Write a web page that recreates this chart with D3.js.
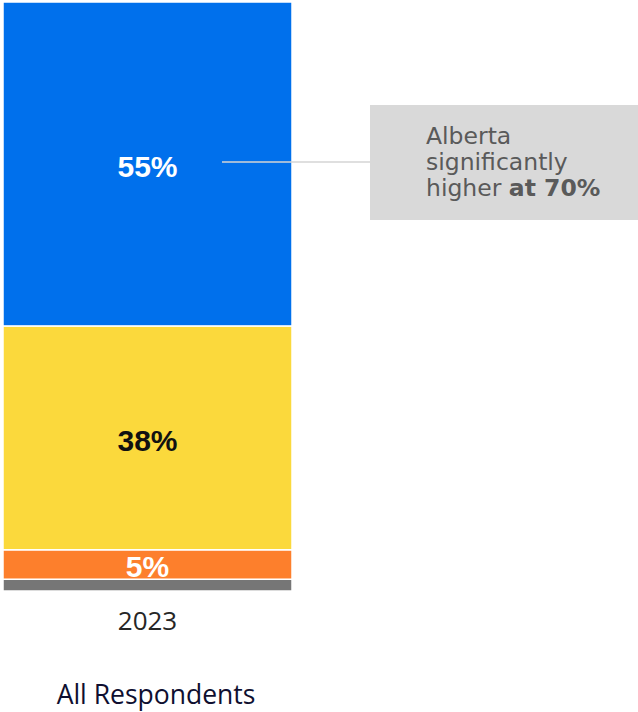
<!DOCTYPE html>
<html>
<head>
<meta charset="utf-8">
<script src="https://cdn.jsdelivr.net/npm/d3@7"></script>
<style>
  html, body { margin: 0; padding: 0; background: #fff; }
  svg { display: block; }
</style>
</head>
<body>
<div id="chart"></div>
<script>
// Stacked share of respondents, 2023
const categories = ["2023"];
const segmentNames = ["Top", "Middle", "Lower", "Bottom"];
const segmentValues = [55, 38, 5, 2];
const segmentLabels = ["55%", "38%", "5%", ""];
const segmentColors = ["#0070ec", "#fbd93c", "#fd7f2c", "#767676"];
const labelColors = ["#ffffff", "#111111", "#ffffff", "#ffffff"];
const groupTitle = "All Respondents";
const calloutLines = [["Alberta"], ["significantly"], ["higher ", "at 70%"]];

const W = 638, H = 712;
const svg = d3.select("#chart").append("svg").attr("width", W).attr("height", H);

const x = d3.scaleBand().domain(categories).range([3, 292]).paddingInner(0).paddingOuter(0);
const y = d3.scaleLinear().domain([0, 100]).range([591, 2]);

// stack the segments from the bottom up (last item sits at the bottom)
let acc = 0;
const stacked = segmentValues.map((v, i) => ({ name: segmentNames[i], value: v, label: segmentLabels[i], color: segmentColors[i], lc: labelColors[i] }))
  .reverse()
  .map(d => { const s = { ...d, y0: acc, y1: acc + d.value }; acc += d.value; return s; });

const g = svg.append("g");
g.selectAll("rect.seg").data(stacked).enter().append("rect")
  .attr("class", "seg")
  .attr("x", x("2023"))
  .attr("width", x.bandwidth())
  .attr("y", d => y(d.y1))
  .attr("height", d => y(d.y0) - y(d.y1))
  .attr("fill", d => d.color)
  .attr("stroke", "#ffffff")
  .attr("stroke-width", 1.5);

g.selectAll("text.val").data(stacked.filter(d => d.label)).enter().append("text")
  .attr("class", "val")
  .attr("x", x("2023") + x.bandwidth() / 2)
  .attr("y", d => (y(d.y0) + y(d.y1)) / 2 + 2)
  .attr("dy", "0.36em")
  .attr("text-anchor", "middle")
  .attr("font-family", "Liberation Sans, Arial, sans-serif")
  .attr("font-weight", "bold")
  .attr("font-size", 30)
  .attr("fill", d => d.lc)
  .text(d => d.label);

// category axis label
const xAxis = d3.axisBottom(x).tickSize(0).tickPadding(0);
const ax = svg.append("g").attr("transform", "translate(0,612)").call(xAxis);
ax.select(".domain").remove();
ax.selectAll("text")
  .attr("font-family", "Open Sans, sans-serif")
  .attr("font-size", 26)
  .attr("fill", "#262626")
  .attr("dy", "0.71em");

svg.append("text")
  .attr("x", 156).attr("y", 704)
  .attr("text-anchor", "middle")
  .attr("font-family", "Open Sans, sans-serif")
  .attr("font-size", 26.5)
  .attr("fill", "#0f0f30")
  .text(groupTitle);

// callout connector and box
const topSeg = stacked[stacked.length - 1];
const cy = (y(topSeg.y0) + y(topSeg.y1)) / 2 - 2;
svg.append("line")
  .attr("x1", 222).attr("x2", 370)
  .attr("y1", cy).attr("y2", cy)
  .attr("stroke", "#d4d4d4").attr("stroke-width", 1.5);

svg.append("rect")
  .attr("x", 370).attr("y", 105)
  .attr("width", 268).attr("height", 115)
  .attr("fill", "#d9d9d9");

const ct = svg.append("text")
  .attr("font-family", "DejaVu Sans, sans-serif")
  .attr("font-size", 23.5)
  .attr("fill", "#5a5a5a");
calloutLines.forEach((parts, i) => {
  const line = ct.append("tspan").attr("x", 426).attr("y", 144 + i * 26);
  parts.forEach((p, j) => {
    (j === 0 ? line : ct.append("tspan")).text(p).attr("font-weight", j === 1 ? "bold" : null);
  });
});
</script>
</body>
</html>
